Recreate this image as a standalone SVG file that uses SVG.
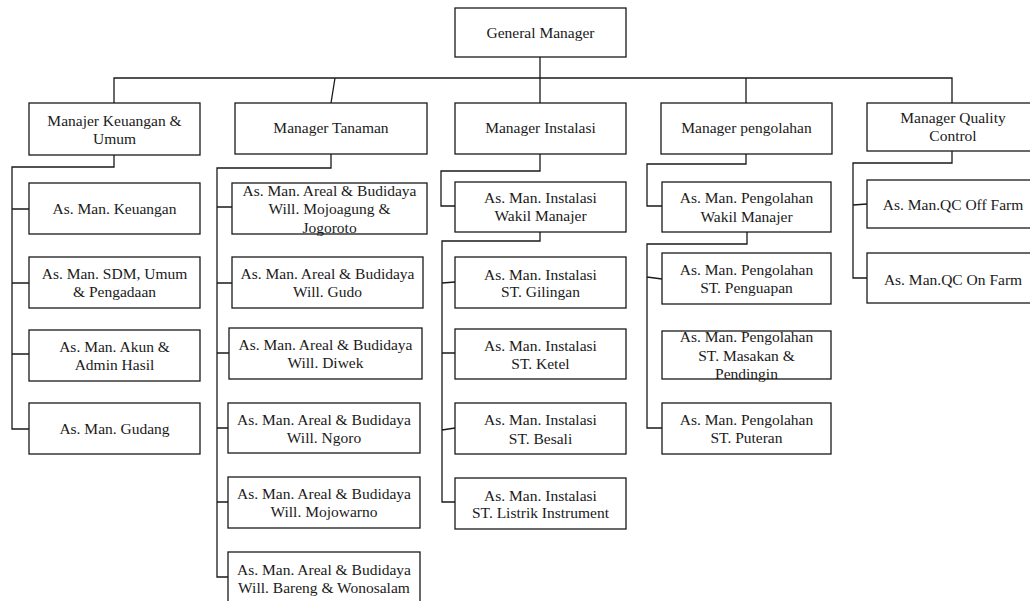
<svg xmlns="http://www.w3.org/2000/svg" width="1030" height="601" viewBox="0 0 1030 601">
<style>
rect{fill:#fff;stroke:#1a1a1a;stroke-width:1.3}
text{font-family:"Liberation Serif","Times New Roman",serif;font-size:15.5px;fill:#1a1a1a;text-anchor:middle}
.c{fill:none;stroke:#1a1a1a;stroke-width:1.3}
</style>
<rect x="0" y="0" width="1030" height="601" style="stroke:none"/>
<g id="connectors">
<path class="c" d="M540 57V78M114 103V78H952V103M540 78V103M746 78V103M335 78L331 103"/>
<path class="c" d="M114 155V167H12V429H29M12 209H29M12 283H29M12 354H29"/>
<path class="c" d="M331 154V168H217V577H228M217 207H232M217 283H232M217 353H229M217 428H228M217 502H228"/>
<path class="c" d="M540 154V171H441V206H455M540 232V241H442V502H455M442 283L455 282M442 353H455M442 430L455 428"/>
<path class="c" d="M746 154V164H647V206H662M747 232V244H647V428H662M647 277L662 279"/>
<path class="c" d="M952 151V163H853V278H867M853 205L867 204"/>
</g>
<g id="gm"><rect x="455" y="8" width="171" height="49"/><text x="540.5" y="38">General Manager</text></g>
<g id="m-keuangan"><rect x="29" y="103" width="171" height="52"/><text x="114.5" y="126">Manajer Keuangan &amp;</text><text x="114.5" y="144">Umum</text></g>
<g id="m-tanaman"><rect x="235" y="103" width="192" height="51"/><text x="331" y="133">Manager Tanaman</text></g>
<g id="m-instalasi"><rect x="455" y="103" width="171" height="51"/><text x="540.5" y="133">Manager Instalasi</text></g>
<g id="m-pengolahan"><rect x="661" y="103" width="171" height="51"/><text x="746.5" y="133">Manager pengolahan</text></g>
<g id="m-qc"><rect x="867" y="103" width="172" height="48"/><text x="953" y="123">Manager Quality</text><text x="953" y="141">Control</text></g>

<g id="k1"><rect x="29" y="183" width="171" height="51"/><text x="114.5" y="214">As. Man. Keuangan</text></g>
<g id="k2"><rect x="29" y="257" width="171" height="51"/><text x="114.5" y="279">As. Man. SDM, Umum</text><text x="114.5" y="297">&amp; Pengadaan</text></g>
<g id="k3"><rect x="29" y="330" width="171" height="51"/><text x="114.5" y="352">As. Man. Akun &amp;</text><text x="114.5" y="370">Admin Hasil</text></g>
<g id="k4"><rect x="29" y="403" width="171" height="51"/><text x="114.5" y="434">As. Man. Gudang</text></g>

<g id="t1"><rect x="232" y="183" width="195" height="51"/><text x="329.5" y="196">As. Man. Areal &amp; Budidaya</text><text x="329.5" y="214">Will. Mojoagung &amp;</text><text x="329.5" y="233">Jogoroto</text></g>
<g id="t2"><rect x="232" y="257" width="191" height="51"/><text x="327.5" y="279">As. Man. Areal &amp; Budidaya</text><text x="327.5" y="297">Will. Gudo</text></g>
<g id="t3"><rect x="229" y="328" width="193" height="51"/><text x="325.5" y="350">As. Man. Areal &amp; Budidaya</text><text x="325.5" y="368">Will. Diwek</text></g>
<g id="t4"><rect x="228" y="403" width="192" height="50"/><text x="324" y="425">As. Man. Areal &amp; Budidaya</text><text x="324" y="443">Will. Ngoro</text></g>
<g id="t5"><rect x="228" y="477" width="192" height="51"/><text x="324" y="499">As. Man. Areal &amp; Budidaya</text><text x="324" y="517">Will. Mojowarno</text></g>
<g id="t6"><rect x="228" y="552" width="192" height="55"/><text x="324" y="575">As. Man. Areal &amp; Budidaya</text><text x="324" y="593">Will. Bareng &amp; Wonosalam</text></g>

<g id="i1"><rect x="455" y="182" width="171" height="50"/><text x="540.5" y="203">As. Man. Instalasi</text><text x="540.5" y="221">Wakil Manajer</text></g>
<g id="i2"><rect x="455" y="257" width="171" height="51"/><text x="540.5" y="280">As. Man. Instalasi</text><text x="540.5" y="297">ST. Gilingan</text></g>
<g id="i3"><rect x="455" y="329" width="171" height="50"/><text x="540.5" y="351">As. Man. Instalasi</text><text x="540.5" y="369">ST. Ketel</text></g>
<g id="i4"><rect x="455" y="403" width="171" height="51"/><text x="540.5" y="425">As. Man. Instalasi</text><text x="540.5" y="444">ST. Besali</text></g>
<g id="i5"><rect x="455" y="478" width="171" height="51"/><text x="540.5" y="501">As. Man. Instalasi</text><text x="540.5" y="518">ST. Listrik Instrument</text></g>

<g id="p1"><rect x="662" y="182" width="169" height="50"/><text x="746.5" y="203">As. Man. Pengolahan</text><text x="746.5" y="222">Wakil Manajer</text></g>
<g id="p2"><rect x="662" y="253" width="169" height="51"/><text x="746.5" y="275">As. Man. Pengolahan</text><text x="746.5" y="293">ST. Penguapan</text></g>
<g id="p3"><rect x="662" y="331" width="169" height="48"/><text x="746.5" y="342">As. Man. Pengolahan</text><text x="746.5" y="361">ST. Masakan &amp;</text><text x="746.5" y="379">Pendingin</text></g>
<g id="p4"><rect x="662" y="403" width="169" height="51"/><text x="746.5" y="425">As. Man. Pengolahan</text><text x="746.5" y="443">ST. Puteran</text></g>

<g id="q1"><rect x="867" y="180" width="172" height="48"/><text x="953" y="210">As. Man.QC Off Farm</text></g>
<g id="q2"><rect x="867" y="253" width="172" height="50"/><text x="953" y="285">As. Man.QC On Farm</text></g>
</svg>
